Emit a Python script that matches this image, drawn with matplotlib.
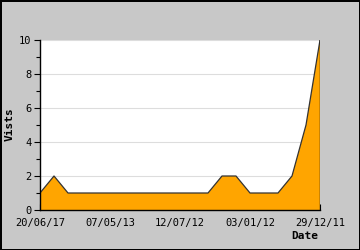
import numpy as np
import matplotlib
matplotlib.use("Agg")
import matplotlib.pyplot as plt
from matplotlib.ticker import MultipleLocator

visits = [1, 2, 1, 1, 1, 1, 1, 1, 1, 1, 1, 1, 1, 2, 2, 1, 1, 1, 2, 5, 10]
tick_pos = [0, 5, 10, 15, 20]
tick_labels = ["20/06/17", "07/05/13", "12/07/12", "03/01/12", "29/12/11"]

plt.rcParams['font.family'] = ['DejaVu Sans Mono']

fig = plt.figure(figsize=(3.6, 2.5), dpi=100, facecolor="#c8c8c8",
                 edgecolor="black", linewidth=2)
ax = fig.add_axes([40/360, 40/250, 280/360, 170/250])
ax.set_facecolor("white")

x = np.arange(len(visits))
ax.fill_between(x, visits, 0, facecolor="#ffa500", edgecolor="none")
ax.plot(x, visits, color="#333333", lw=0.9)
ax.plot([x[-1], x[-1]], [0, visits[-1]], color="black", lw=1)

ax.set_xlim(0, len(visits) - 1)
ax.set_ylim(0, 10)
ax.yaxis.set_major_locator(MultipleLocator(2))
ax.yaxis.set_minor_locator(MultipleLocator(1))
ax.grid(axis="y", color="#dddddd", lw=0.8)
ax.set_axisbelow(True)

ax.set_xticks(tick_pos)
ax.set_xticklabels(tick_labels, fontsize=7.5)
ax.tick_params(axis="x", direction="in", length=4, width=0.8, pad=6)
ax.tick_params(axis="y", which="major", direction="out", length=4, width=0.8, labelsize=7.5, pad=2)
ax.tick_params(axis="y", which="minor", direction="out", length=3, width=0.8)

for s in ["top", "right"]:
    ax.spines[s].set_visible(False)
ax.spines["left"].set_linewidth(1)
ax.spines["bottom"].set_linewidth(1)

fig.text(10/360, 1 - 124/250, "Vists", fontsize=8, fontweight="bold",
         rotation=90, ha="center", va="center")
fig.text(305/360, 1 - 236/250, "Date", fontsize=8, fontweight="bold",
         ha="center", va="center")

fig.savefig("out.png", dpi=100, facecolor=fig.get_facecolor(), edgecolor="black")
